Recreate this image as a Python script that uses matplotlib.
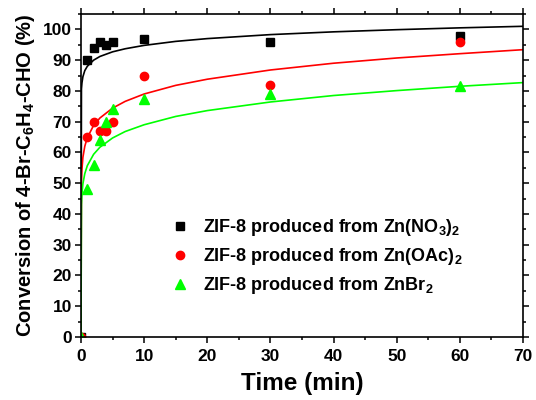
import numpy as np
import matplotlib
matplotlib.use("Agg")
import matplotlib.pyplot as plt
from matplotlib.ticker import MultipleLocator

plt.rcParams['font.family'] = ['Liberation Sans', 'DejaVu Sans']
plt.rcParams['font.weight'] = 'bold'
plt.rcParams['mathtext.fontset'] = 'custom'
plt.rcParams['mathtext.rm'] = 'Liberation Sans:bold'
plt.rcParams['mathtext.bf'] = 'Liberation Sans:bold'
plt.rcParams['mathtext.default'] = 'rm'

# measured points (time in min, conversion in %)
t_pts = [0, 1, 2, 3, 4, 5, 10, 30, 60]
y_no3 = [0, 90, 94, 96, 95, 96, 97, 96, 98]
y_oac = [0, 65, 70, 67, 67, 70, 85, 82, 96]
y_br = [0, 48, 56, 64, 70, 74, 77.5, 79, 81.5]

# fitted curves
t_fit = [0, 0.07, 0.15, 0.3, 0.6, 1, 2, 3, 5, 7, 10, 15, 20, 30, 40, 50, 60, 70]
fit_no3 = [0, 80.6, 82.6, 84.6, 86.6, 88.0, 90.0, 91.2, 92.7, 93.7, 94.8,
           96.1, 97.0, 98.3, 99.2, 99.9, 100.5, 101.0]
fit_oac = [0, 51.0, 54.6, 58.4, 62.0, 64.8, 68.8, 71.2, 74.4, 76.6, 79.0,
           81.8, 83.8, 86.8, 89.0, 90.7, 92.1, 93.4]
fit_br = [0, 43.1, 46.6, 49.8, 53.1, 55.7, 59.4, 61.7, 64.7, 66.8, 69.0,
          71.7, 73.6, 76.4, 78.5, 80.1, 81.5, 82.7]

labels = [r'ZIF-8 produced from Zn(NO$_3$)$_2$',
          r'ZIF-8 produced from Zn(OAc)$_2$',
          r'ZIF-8 produced from ZnBr$_2$']

fig = plt.figure(figsize=(5.36, 4.0), dpi=100)
ax = fig.add_axes([81/536, 1-337/400, 442/536, 323/400])

ax.plot(t_fit, fit_no3, color='black', lw=1.2)
ax.plot(t_fit, fit_oac, color='#ff0000', lw=1.2)
ax.plot(t_fit, fit_br, color='#00ff00', lw=1.2)

ax.plot(t_pts, y_no3, 's', color='black', ms=5.3, ls='none', label=labels[0])
ax.plot(t_pts, y_oac, 'o', color='#ff0000', ms=6, ls='none', label=labels[1])
ax.plot(t_pts, y_br, '^', color='#00ff00', ms=7, ls='none', label=labels[2])

ax.set_xlim(0, 70)
ax.set_ylim(0, 105)
ax.xaxis.set_major_locator(MultipleLocator(10))
ax.xaxis.set_minor_locator(MultipleLocator(5))
ax.yaxis.set_major_locator(MultipleLocator(10))
ax.yaxis.set_minor_locator(MultipleLocator(5))
ax.tick_params(which='both', direction='out', top=True, right=True, width=1.1,
               labelsize=12.5)
ax.tick_params(axis='x', pad=4)
ax.tick_params(axis='y', pad=2)
ax.tick_params(which='major', length=4.5)
ax.tick_params(which='minor', length=2.5)
for s in ax.spines.values():
    s.set_linewidth(1.2)

ax.set_xlabel('Time (min)', fontsize=17.5, fontweight='bold', labelpad=6)
ax.set_ylabel(r'Conversion of 4-Br-C$_6$H$_4$-CHO (%)', fontsize=14.5,
              fontweight='bold', labelpad=4)

ax.legend(loc='upper left', bbox_to_anchor=(0.2036, 0.372), frameon=False,
          fontsize=13, handlelength=1.0, handletextpad=0.78, borderpad=0,
          borderaxespad=0, labelspacing=0.45)

fig.savefig('out.png', dpi=100)
